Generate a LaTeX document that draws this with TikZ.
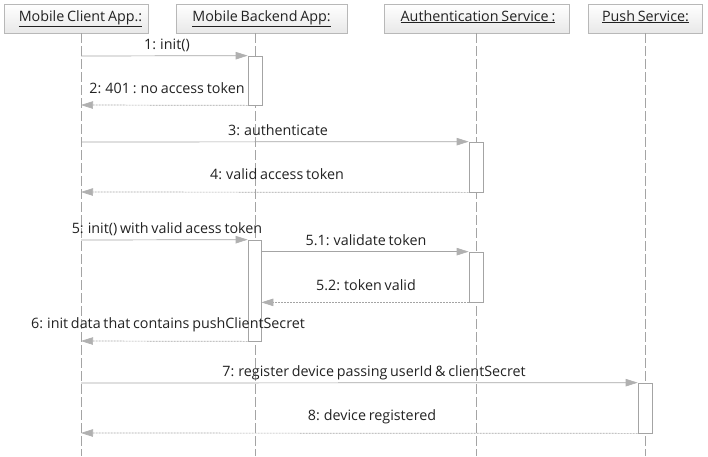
\documentclass[tikz,border=0pt]{standalone}
\usepackage{fontspec}
\setmainfont{Open Sans}[WordSpace=0.75]
\usetikzlibrary{arrows.meta}
\definecolor{lineg}{HTML}{A4A4A4}
\definecolor{tipg}{HTML}{B0B0B0}
\definecolor{boxg}{HTML}{B8B8B8}
\definecolor{txt}{HTML}{222222}
\begin{document}
\begin{tikzpicture}[x=1pt,y=-1pt,
  font=\fontsize{14.3}{16}\selectfont,
  header/.style={draw=boxg,top color=white,bottom color=black!9,inner sep=0pt},
  lifeline/.style={draw=lineg,dash pattern=on 10pt off 3pt,line width=0.7pt},
  actbar/.style={draw=lineg,fill=white,inner sep=0pt,minimum width=14pt,line width=0.7pt},
  msg/.style={draw=lineg,line width=0.7pt,-{Triangle[length=12pt,width=7.5pt,fill=tipg,color=tipg]}},
  reply/.style={msg,dash pattern=on 2pt off 1pt},
  lbl/.style={anchor=base,inner sep=0pt,text=txt}
]
\useasboundingbox (0,0) rectangle (708,456);
% header boxes
\path[header] (4,4) rectangle (148,33);
\path[header] (176,4) rectangle (347,33);
\path[header] (384,4) rectangle (569,33);
\path[header] (588,4) rectangle (702,33);
\node[lbl] (hc) at (80.5,21) {\underline{Mobile Client App.:}};
\node[lbl] (hb) at (261.5,21) {\underline{Mobile Backend App:}};
\node[lbl] (ha) at (478,21) {\underline{Authentication Service :}};
\node[lbl] (hp) at (645.5,21) {\underline{Push Service:}};
% lifelines
\coordinate (lc0) at (81,33);  \coordinate (lc1) at (81,456);
\coordinate (lb0) at (255,33); \coordinate (lb1) at (255,456);
\coordinate (la0) at (476,33); \coordinate (la1) at (476,456);
\coordinate (lp0) at (645,33); \coordinate (lp1) at (645,456);
\draw[lifeline] (lc0) -- (lc1);
\draw[lifeline] (lb0) -- (lb1);
\draw[lifeline] (la0) -- (la1);
\draw[lifeline] (lp0) -- (lp1);
% activation bars
\node[actbar,minimum height=49pt] (a1) at (255,80.5) {};
\node[actbar,minimum height=50pt] (a2) at (476,167) {};
\node[actbar,minimum height=101pt,minimum width=13pt] (a3) at (254.5,290.5) {};
\node[actbar,minimum height=50pt] (a4) at (476,277) {};
\node[actbar,minimum height=50pt] (a5) at (645,408) {};
% client-side end points
\coordinate (c1) at (81,56);
\coordinate (c2) at (81,105);
\coordinate (c3) at (81,142);
\coordinate (c4) at (81,192);
\coordinate (c5) at (81,240);
\coordinate (c6) at (81,341);
\coordinate (c7) at (81,383);
\coordinate (c8) at (81,433);
% messages
\draw[msg] (c1) -- (a1.north west);
\draw[reply] (a1.south west) -- (c2);
\draw[msg] (c3) -- (a2.north west);
\draw[reply] (a2.south west) -- (c4);
\draw[msg] (c5) -- (a3.north west);
\draw[msg] (a3.east |- a4.north) -- (a4.north west);
\draw[reply] (a4.south west) -- (a3.east |- a4.south);
\draw[reply] (a3.south west) -- (c6);
\draw[msg] (c7) -- (a5.north west);
\draw[reply] (a5.south west) -- (c8);
% labels
\node[lbl] (m1) at (167,49.5) {1: init()};
\node[lbl] (m2) at (167,93.5) {2: 401 : no access token};
\node[lbl] (m3) at (278,135.5) {3: authenticate};
\node[lbl] (m4) at (277,179.5) {4: valid access token};
\node[lbl] (m5) at (167,233.5) {5: init() with valid acess token};
\node[lbl] (m51) at (366,245.5) {5.1: validate token};
\node[lbl] (m52) at (366,290.5) {5.2: token valid};
\node[lbl] (m6) at (168,328.5) {6: init data that contains pushClientSecret};
\node[lbl] (m7) at (374,376.5) {7: register device passing userId \& clientSecret};
\node[lbl] (m8) at (372,420.5) {8: device registered};
\end{tikzpicture}
\end{document}
